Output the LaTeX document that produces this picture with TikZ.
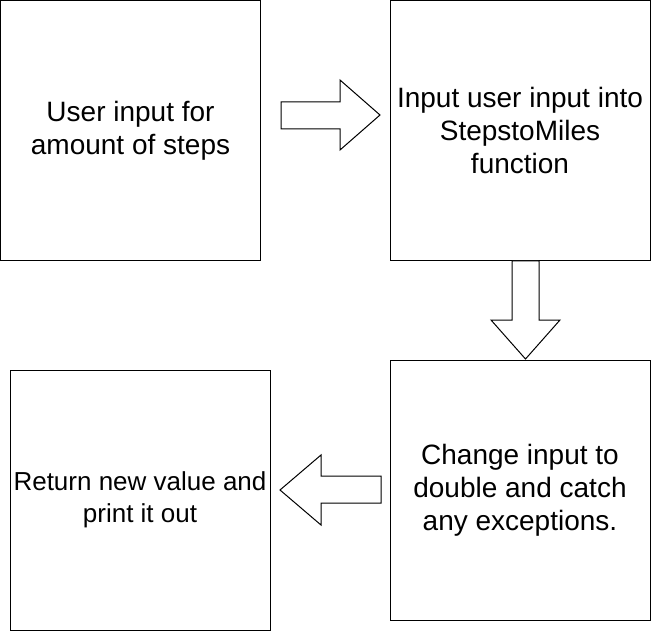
\documentclass[tikz,border=0pt]{standalone}
\usepackage{fontspec}
\setmainfont{Liberation Sans}
\usetikzlibrary{positioning}
\begin{document}
\begin{tikzpicture}
          [x=1pt,y=-1pt,line width=1pt,
           every node/.style={draw,minimum size=260pt,inner sep=0pt,align=center,font=\fontsize{28}{33}\selectfont},
           blockarrow/.style={draw,fill=white}]
          \useasboundingbox (0,0) rectangle (651,631);
          \node (steps)  at (130.5,130.5) {User input for\\amount of steps};
          \node (func)   at (520,130.5)   {Input user input into\\StepstoMiles\\function};
          \node (double) at (520,490)     {Change input to\\double and catch\\any exceptions.};
          \node[font=\fontsize{26}{32}\selectfont] (result) at (140,500) {Return new value and\\print it out};

          % block arrows between the boxes
          \draw[blockarrow] (281,102) -- (340,102) -- (340,80) -- (380,115)
            -- (340,150) -- (340,129) -- (281,129) -- cycle;
          \draw[blockarrow] (512,261) -- (539,261) -- (539,320) -- (560,320)
            -- (525.5,359) -- (491,320) -- (512,320) -- cycle;
          \draw[blockarrow] (381,476) -- (321,476) -- (321,455) -- (280,490)
            -- (321,525) -- (321,503) -- (381,503) -- cycle;
        \end{tikzpicture}
\end{document}
